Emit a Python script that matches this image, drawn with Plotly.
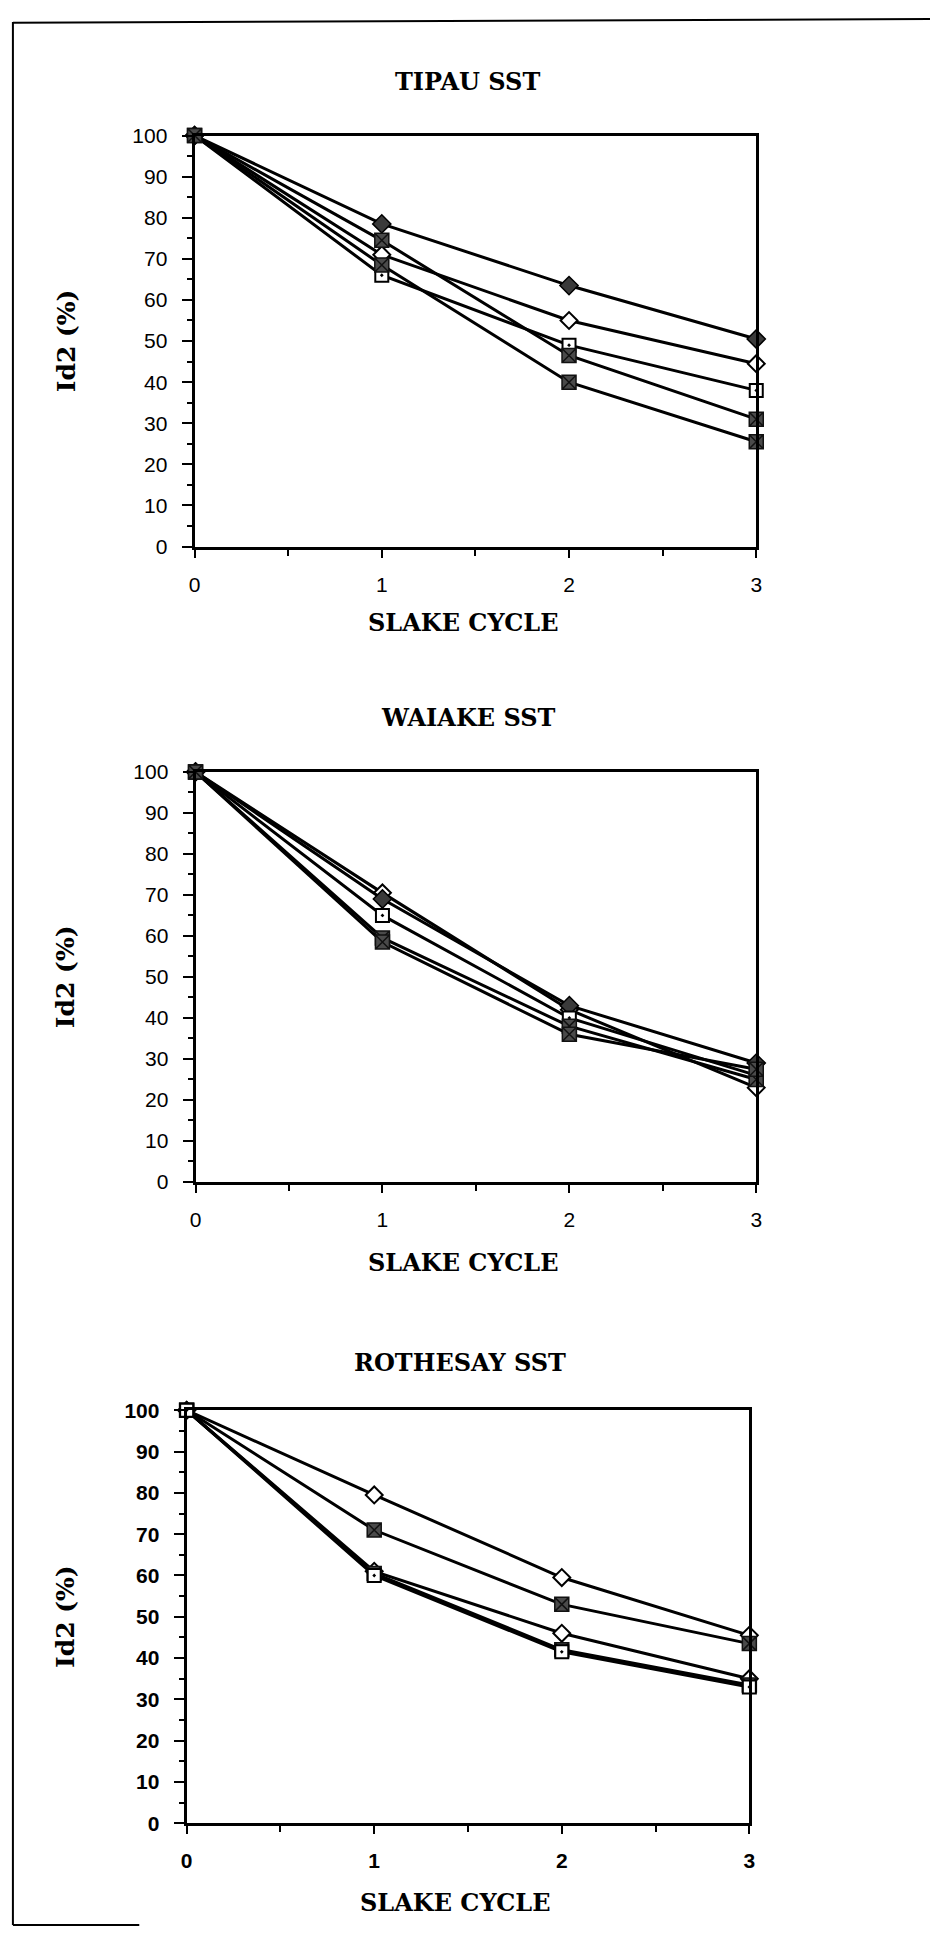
import plotly.graph_objects as go

W, H = 936, 1942

cycles = [0, 1, 2, 3]

# TIPAU SST
tipau_filled_diamond = [100, 78.5, 63.5, 50.5]
tipau_open_diamond = [100, 71, 55, 44.5]
tipau_open_square = [100, 66, 49, 38]
tipau_filled_square_a = [100, 74.5, 46.5, 31]
tipau_filled_square_b = [100, 68.5, 40, 25.5]

# WAIAKE SST
waiake_open_diamond = [100, 70.5, 42, 23]
waiake_filled_diamond = [100, 69, 43, 29]
waiake_open_square = [100, 65, 40, 26]
waiake_filled_square_a = [100, 59.5, 38, 25]
waiake_filled_square_b = [100, 58.5, 36, 27.5]

# ROTHESAY SST
rothesay_open_diamond = [100, 79.5, 59.5, 45.5]
rothesay_filled_square_a = [100, 71, 53, 43.5]
rothesay_open_diamond_b = [100, 61, 46, 35]
rothesay_filled_square_b = [100, 60.5, 42, 33.5]
rothesay_open_square = [100, 60, 41.5, 33]

chart_titles = ["TIPAU SST", "WAIAKE SST", "ROTHESAY SST"]
x_title = "SLAKE CYCLE"
y_title = "Id2 (%)"

STYLES = {
    "filled_diamond": dict(symbol="diamond", size=14, color="#3a3a3a", line=dict(color="black", width=1.5)),
    "open_diamond": dict(symbol="diamond", size=13, color="white", line=dict(color="black", width=2)),
    "open_square": dict(symbol="square-dot", size=13, color="white", line=dict(color="black", width=2)),
    "filled_square": dict(symbol="square-x", size=14, color="#4a4a4a", line=dict(color="#111111", width=1.5)),
}

panels = [
    [(tipau_filled_diamond, "filled_diamond"), (tipau_open_diamond, "open_diamond"),
     (tipau_open_square, "open_square"), (tipau_filled_square_a, "filled_square"),
     (tipau_filled_square_b, "filled_square")],
    [(waiake_open_diamond, "open_diamond"), (waiake_filled_diamond, "filled_diamond"),
     (waiake_open_square, "open_square"), (waiake_filled_square_a, "filled_square"),
     (waiake_filled_square_b, "filled_square")],
    [(rothesay_open_diamond, "open_diamond"), (rothesay_filled_square_a, "filled_square"),
     (rothesay_open_diamond_b, "open_diamond"), (rothesay_filled_square_b, "filled_square"),
     (rothesay_open_square, "open_square")],
]

# pixel geometry of each plot box: (x_left, x_right, y_top, y_bottom)
boxes = [
    (191, 760, 125, 541),
    (192, 760, 769, 1184),
    (183, 753, 1415, 1833),
]
title_y = [70, 714, 1367]
xlabel_y = [618, 1265, 1913]
tick_weight = ["normal", "normal", "bold"]

fig = go.Figure()

def px_x(v):
    return v / W

def px_y(v):
    return 1 - v / H

annotations = []
for i, (series, box) in enumerate(zip(panels, boxes)):
    n = "" if i == 0 else str(i + 1)
    xl, xr, yt, yb = box
    for vals, style in series:
        st = STYLES[style]
        fig.add_trace(go.Scatter(
            x=cycles, y=vals, mode="lines+markers",
            line=dict(color="black", width=3),
            marker=dict(symbol=st["symbol"], size=st["size"], color=st["color"], line=st["line"]),
            xaxis="x" + n, yaxis="y" + n, cliponaxis=False, showlegend=False,
        ))
    tf = dict(family="Liberation Sans", size=21, color="black", weight=tick_weight[i])
    fig.update_layout(**{
        "xaxis" + n: dict(
            domain=[px_x(xl), px_x(xr)], range=[0, 3], anchor="y" + n,
            tickvals=[0, 1, 2, 3], ticks="outside", ticklen=8, tickwidth=2, tickcolor="black",
            minor=dict(dtick=0.5, ticks="outside", ticklen=6, tickwidth=2, tickcolor="black"),
            showline=True, linewidth=3, linecolor="black", mirror=True,
            showgrid=False, zeroline=False, ticklabelstandoff=9,
            tickfont=tf,
        ),
        "yaxis" + n: dict(
            domain=[px_y(yb), px_y(yt)], range=[0, 100], anchor="x" + n,
            dtick=10, ticks="outside", ticklen=10, tickwidth=2, tickcolor="black",
            minor=dict(dtick=5, ticks="outside", ticklen=5, tickwidth=2, tickcolor="black"),
            showline=True, linewidth=3, linecolor="black", mirror=True,
            showgrid=False, zeroline=False, ticklabelstandoff=10,
            tickfont=tf,
        ),
    })
    cx = (xl + xr) / 2
    annotations.append(dict(text="<b>" + chart_titles[i] + "</b>", x=px_x(cx - 8), y=px_y(title_y[i]),
                            xref="paper", yref="paper", showarrow=False, xanchor="center", yanchor="middle",
                            font=dict(family="DejaVu Serif", size=24, color="black")))
    annotations.append(dict(text="<b>" + x_title + "</b>", x=px_x(cx - 13), y=px_y(xlabel_y[i]),
                            xref="paper", yref="paper", showarrow=False, xanchor="center", yanchor="middle",
                            font=dict(family="DejaVu Serif", size=24, color="black")))
    annotations.append(dict(text="<b>" + y_title + "</b>", x=px_x(61), y=px_y((yt + yb) / 2),
                            xref="paper", yref="paper", showarrow=False, xanchor="center", yanchor="middle",
                            textangle=-90,
                            font=dict(family="DejaVu Serif", size=25, color="black")))

shapes = [
    dict(type="line", xref="paper", yref="paper", x0=px_x(7), x1=px_x(7), y0=px_y(10), y1=px_y(1936),
         line=dict(color="black", width=2)),
    dict(type="line", xref="paper", yref="paper", x0=px_x(7), x1=1, y0=px_y(11), y1=px_y(7),
         line=dict(color="black", width=2)),
    dict(type="line", xref="paper", yref="paper", x0=px_x(7), x1=px_x(135), y0=px_y(1936), y1=px_y(1936),
         line=dict(color="black", width=2)),
]

fig.update_layout(
    width=W, height=H, margin=dict(l=0, r=0, t=0, b=0),
    paper_bgcolor="white", plot_bgcolor="white",
    annotations=annotations, shapes=shapes, showlegend=False,
)

fig.write_html("out.html")
